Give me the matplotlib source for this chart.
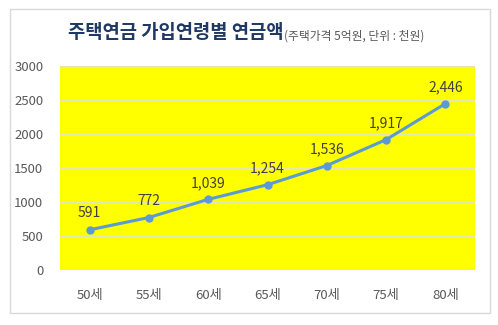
import matplotlib.pyplot as plt
from matplotlib.patches import Rectangle

plt.rcParams['font.family'] = ['Noto Sans CJK KR', 'DejaVu Sans']

ages = ['50세', '55세', '60세', '65세', '70세', '75세', '80세']
pension = [591, 772, 1039, 1254, 1536, 1917, 2446]
yticks = [0, 500, 1000, 1500, 2000, 2500, 3000]

fig = plt.figure(figsize=(4.98, 3.25), dpi=100)
# 바깥 테두리
fig.patches.append(Rectangle((10 / 498, 12 / 325), 480 / 498, 304 / 325,
                             transform=fig.transFigure, fill=False,
                             edgecolor='#d9d9d9', linewidth=1))

ax = fig.add_axes([60 / 498, 55 / 325, 415 / 498, 204 / 325])
ax.set_facecolor('#ffff00')
x = list(range(len(ages)))
ax.plot(x, pension, color='#5b9bd5', linewidth=2.2, marker='o', markersize=5)
for i, v in enumerate(pension):
    ax.text(i, v + 140, f'{v:,}', ha='center', va='bottom', fontsize=10,
            color='#404040')

ax.set_xlim(-0.5, len(ages) - 0.5)
ax.set_ylim(0, 3000)
ax.set_yticks(yticks)
ax.set_xticks(x)
ax.set_xticklabels(ages)
ax.yaxis.grid(True, color='#e6e6b0', linewidth=0.8)
ax.set_axisbelow(True)
for s in ax.spines.values():
    s.set_visible(False)
ax.tick_params(length=0, labelsize=9.5, colors='#595959')
ax.tick_params(axis='x', pad=14)
ax.tick_params(axis='y', pad=12)

# 제목 + 작은 부제
t1 = fig.text(68 / 498, 292 / 325, '주택연금 가입연령별 연금액', fontsize=13.5,
              fontweight='bold', color='#1f3864', va='center')
fig.canvas.draw()
bb = t1.get_window_extent()
fig.text(bb.x1 / 498 + 0.002, 289 / 325, '(주택가격 5억원, 단위 : 천원)',
         fontsize=8.5, color='#595959', va='center')

fig.savefig('out.png', dpi=100)
